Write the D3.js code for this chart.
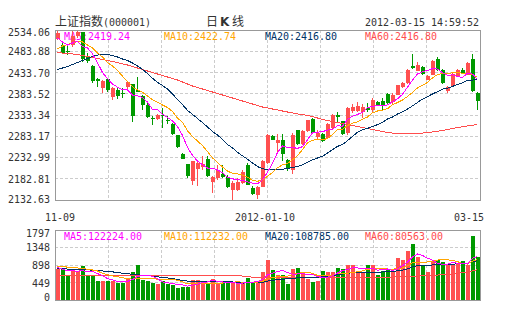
<!DOCTYPE html>
<html><head><meta charset="utf-8">
<script src="https://cdn.jsdelivr.net/npm/d3@7"></script>
<style>body{margin:0;background:#fff}svg{display:block}</style>
</head><body><svg id="c" width="505" height="330"></svg>
<script>
// ---------- DATA ----------
const dates = [
 "2011-11-09","2011-11-10","2011-11-11","2011-11-14","2011-11-15","2011-11-16","2011-11-17","2011-11-18","2011-11-21","2011-11-22",
 "2011-11-23","2011-11-24","2011-11-25","2011-11-28","2011-11-29","2011-11-30","2011-12-01","2011-12-02","2011-12-05","2011-12-06",
 "2011-12-07","2011-12-08","2011-12-09","2011-12-12","2011-12-13","2011-12-14","2011-12-15","2011-12-16","2011-12-19","2011-12-20",
 "2011-12-21","2011-12-22","2011-12-23","2011-12-26","2011-12-27","2011-12-28","2011-12-29","2011-12-30","2012-01-04","2012-01-05",
 "2012-01-06","2012-01-09","2012-01-10","2012-01-11","2012-01-12","2012-01-13","2012-01-16","2012-01-17","2012-01-18","2012-01-19",
 "2012-01-20","2012-01-30","2012-01-31","2012-02-01","2012-02-02","2012-02-03","2012-02-06","2012-02-07","2012-02-08","2012-02-09",
 "2012-02-10","2012-02-13","2012-02-14","2012-02-15","2012-02-16","2012-02-17","2012-02-20","2012-02-21","2012-02-22","2012-02-23",
 "2012-02-24","2012-02-27","2012-02-28","2012-02-29","2012-03-01","2012-03-02","2012-03-05","2012-03-06","2012-03-07","2012-03-08",
 "2012-03-09","2012-03-12","2012-03-13","2012-03-14","2012-03-15"];
const opens = [
 2513.5,2498.6,2484.5,2497.5,2519.9,2528.6,2472.7,2449.0,2417.2,2397.1,
 2418.4,2375.9,2392.4,2385.3,2398.3,2405.8,2391.2,2378.2,2356.9,2327.4,
 2324.6,2333.3,2321.5,2312.1,2285.4,2241.3,2217.6,2176.8,2205.8,2209.9,
 2229.4,2175.1,2184.6,2194.7,2186.2,2155.5,2155.5,2172.8,2215.3,2161.0,
 2145.1,2164.0,2220.0,2283.1,2267.2,2275.0,2227.8,2204.2,2297.9,2263.7,
 2294.9,2323.9,2281.4,2288.5,2279.0,2302.6,2332.2,2318.5,2290.8,2342.1,
 2343.5,2340.4,2349.9,2345.9,2364.1,2365.7,2383.6,2364.1,2381.3,2398.8,
 2408.9,2447.9,2438.0,2446.0,2416.7,2428.5,2465.6,2440.3,2389.3,2401.1,
 2424.7,2440.3,2428.5,2466.3,2385.3];
const highs = [
 2531.7,2503.4,2496.3,2531.7,2534.06,2529.3,2479.7,2451.4,2420.7,2416.0,
 2420.7,2399.5,2399.5,2397.1,2414.3,2406.5,2423.1,2380.6,2361.7,2331.0,
 2335.7,2349.9,2331.0,2314.5,2286.1,2243.6,2218.8,2225.9,2224.0,2237.2,
 2237.2,2188.6,2215.9,2215.9,2192.4,2176.8,2184.6,2203.5,2220.0,2165.7,
 2165.7,2227.1,2288.5,2286.1,2288.5,2288.5,2229.4,2290.8,2299.1,2297.9,
 2322.7,2325.1,2297.9,2290.8,2314.5,2335.7,2340.4,2319.2,2352.2,2359.3,
 2364.1,2359.3,2361.7,2373.5,2366.4,2373.5,2385.3,2385.3,2404.2,2411.3,
 2442.0,2477.4,2458.5,2449.0,2427.8,2463.2,2469.6,2442.0,2401.8,2432.5,
 2442.0,2444.3,2458.5,2477.4,2387.7];
const lows = [
 2510.4,2477.4,2475.0,2493.9,2515.2,2458.5,2456.9,2408.9,2399.5,2385.3,
 2388.8,2368.8,2371.1,2373.5,2392.4,2317.5,2387.7,2345.2,2326.3,2309.7,
 2322.2,2302.6,2312.1,2286.8,2255.4,2228.3,2184.6,2168.7,2165.0,2204.2,
 2186.9,2149.2,2180.6,2185.7,2162.1,2132.63,2153.2,2170.4,2168.0,2145.6,
 2135.0,2163.3,2217.6,2274.3,2241.3,2224.7,2201.1,2195.2,2262.5,2262.5,
 2293.2,2288.5,2276.7,2269.6,2276.7,2300.3,2316.8,2286.1,2286.1,2338.1,
 2340.4,2326.3,2340.4,2340.4,2354.6,2345.2,2359.3,2359.3,2380.6,2397.1,
 2406.5,2442.0,2437.2,2427.8,2416.0,2427.8,2436.5,2406.5,2385.3,2399.5,
 2423.1,2430.2,2427.8,2387.7,2345.9];
const closes = [
 2525.8,2479.7,2482.1,2519.9,2529.3,2464.9,2461.6,2413.6,2414.8,2413.6,
 2392.4,2397.1,2378.2,2382.9,2412.0,2331.7,2388.8,2357.7,2327.9,2325.1,
 2334.1,2331.0,2319.2,2288.5,2257.8,2229.4,2188.6,2225.4,2220.0,2217.6,
 2189.3,2186.9,2204.2,2186.9,2162.6,2172.8,2175.1,2198.8,2169.2,2146.8,
 2163.3,2225.4,2286.1,2275.0,2275.0,2241.3,2205.8,2286.8,2263.7,2295.6,
 2321.5,2290.8,2292.0,2271.2,2312.1,2333.3,2329.8,2288.5,2349.9,2351.5,
 2353.9,2352.2,2344.0,2369.5,2355.3,2355.3,2361.7,2381.3,2403.5,2408.9,
 2440.3,2445.5,2452.1,2430.2,2424.7,2461.6,2440.3,2408.9,2398.8,2430.9,
 2440.3,2432.5,2456.1,2390.7,2367.1];
const volumes = [
 796,804,608,753,744,864,650,650,479,479,
 479,488,436,436,548,710,907,522,479,436,
 402,488,402,385,317,342,342,522,522,496,
 445,548,402,428,436,436,436,436,556,436,
 471,719,1027,779,650,650,419,804,821,693,
 539,454,496,736,710,710,821,804,890,907,
 693,693,907,890,650,753,779,736,1078,1035,
 1249,1446,1095,881,710,993,1035,967,907,890,
 924,993,907,1652,1095];
const ma5Head  = [2515.2,2505.7,2498.6,2503.4];
const ma10Head = [2489.2,2496.3,2499.8,2503.4,2506.9,2505.7,2498.6,2491.6,2479.7];
const ma20Head = [2440.8,2444.3,2447.9,2452.6,2457.3,2462.0,2466.8,2471.5,2475.0,2476.2,
                  2476.2,2473.8,2470.3,2465.6,2462.0,2456.1,2449.1,2440.8,2431.3];
const ma60 = [
 2480.9,2479.7,2478.6,2477.4,2476.2,2473.8,2471.5,2469.1,2466.8,2464.4,
 2462.0,2459.7,2457.3,2453.8,2451.4,2447.9,2444.3,2440.8,2437.2,2433.7,
 2430.2,2426.6,2423.1,2419.5,2416.0,2411.3,2406.5,2401.8,2398.3,2394.7,
 2391.2,2387.7,2384.1,2380.6,2377.0,2373.5,2369.9,2366.4,2362.9,2359.3,
 2355.8,2352.2,2349.9,2347.5,2345.2,2342.8,2340.4,2338.1,2335.7,2334.5,
 2332.2,2329.8,2326.3,2322.7,2320.4,2318.0,2315.6,2313.3,2310.9,2308.5,
 2306.2,2303.8,2301.5,2299.1,2296.7,2294.4,2292.0,2290.8,2290.8,2290.8,
 2290.8,2290.8,2290.8,2290.8,2292.0,2293.2,2294.9,2296.7,2299.1,2301.5,
 2303.8,2305.7,2307.4,2309.3,2310.9];
const volMa5Head  = [837,790,755,748];
const volMa10Head = [862,855,845,835,822,808,790,770,745];
const volMa20Head = [805,800,795,790,785,780,775,765,755,745,735,722,705,690,675,660,648,636,625];
const volMa60 = [
 630,630,629,629,629,628,628,628,628,628,
 628,628,628,628,628,628,628,628,628,628,
 628,628,628,628,628,628,628,628,628,628,
 628,628,628,628,628,627,625,615,600,585,
 578,575,572,570,568,567,566,566,565,565,
 565,565,565,565,565,565,565,566,567,568,
 570,572,574,577,580,583,586,590,594,598,
 603,608,614,620,626,631,640,649,658,667,
 684,701,719,748,778];
const priceTicks = ["2534.06","2483.88","2433.70","2383.52","2333.34","2283.17","2232.99","2182.81","2132.63"];
const volTicks = ["1797","1348","898","449","0"];
const xLabelIdx = [0, 42, 84];
const xLabels = ["11-09","2012-01-10","03-15"];
const maNames = ["MA5","MA10","MA20","MA60"];
const priceLegend = ["2419.24","2422.74","2416.80","2416.80"];
const volLegend = ["122224.00","112232.00","108785.00","80563.00"];
const title = "上证指数", code = "(000001)", timeStamp = "2012-03-15 14:59:52";

// ---------- STYLE ----------
const maColors = ["#ff00ff","#ffa500","#003366","#ff4d4d"];
const UP = "#ff5050", DOWN = "#009900";
const MONO = "'DejaVu Sans Mono', monospace";
const CJK = "'Noto Sans CJK SC', sans-serif";

const N = dates.length;
const L=55, R=480, T=30, B=200, VT=230, VB=300;
const svg = d3.select("#c");

const x = d3.scaleBand().domain(d3.range(N)).range([L, R]);
const y = d3.scaleLinear().domain([+priceTicks[8], +priceTicks[0]]).range([B, T]);
const yv = d3.scaleLinear().domain([0, +volTicks[0]]).range([VB, VT]);
const gx = d3.scaleLinear().domain([0, 8]).range([L, R]);

function ma(arr, n, head){ return arr.map((v,i)=> i < n-1 ? head[i] : d3.mean(arr.slice(i-n+1, i+1))); }
const pMA = [ma(closes,5,ma5Head), ma(closes,10,ma10Head), ma(closes,20,ma20Head), ma60];
const vMA = [ma(volumes,5,volMa5Head), ma(volumes,10,volMa10Head), ma(volumes,20,volMa20Head), volMa60];

function mono(g, txt, px, py, anchor, color){
  return g.append("text").attr("x",px).attr("y",py).attr("text-anchor",anchor||"start")
    .attr("font-family",MONO).attr("font-size",11).attr("fill",color||"#333")
    .attr("textLength", txt.length*6).attr("lengthAdjust","spacingAndGlyphs").text(txt);
}

// ---------- GRID ----------
const grid = svg.append("g").attr("stroke","#cccccc").attr("stroke-dasharray","3,2").attr("shape-rendering","crispEdges");
priceTicks.slice(1,8).forEach(t=>{
  const yy = Math.floor(y(+t))+0.5;
  grid.append("line").attr("x1",L).attr("x2",R).attr("y1",yy).attr("y2",yy);
});
volTicks.slice(1,4).forEach(t=>{
  const yy = Math.floor(yv(+t))+0.5;
  grid.append("line").attr("x1",L).attr("x2",R).attr("y1",yy).attr("y2",yy);
});
d3.range(1,8).forEach(k=>{
  const xx = Math.floor(gx(k))+0.5;
  grid.append("line").attr("x1",xx).attr("x2",xx).attr("y1",T).attr("y2",B);
  grid.append("line").attr("x1",xx).attr("x2",xx).attr("y1",VT).attr("y2",VB);
});

// ---------- TEXT ----------
const tg = svg.append("g");
tg.append("text").attr("x",55).attr("y",26).attr("font-family",CJK).attr("font-size",12).attr("fill","#333").text(title);
mono(tg, code, 103, 26);
tg.append("text").attr("x",206).attr("y",26).attr("font-family",CJK).attr("font-size",12).attr("fill","#333").text("日");
tg.append("text").attr("x",220).attr("y",26).attr("font-family","'DejaVu Sans', sans-serif").attr("font-weight","bold").attr("font-size",12).attr("fill","#333").text("K");
tg.append("text").attr("x",232).attr("y",26).attr("font-family",CJK).attr("font-size",12).attr("fill","#333").text("线");
mono(tg, timeStamp, 479, 26, "end");

priceTicks.forEach(t=>{
  const c = Math.max(T+1.5, Math.min(B-1, y(+t)));
  mono(tg, t, 50, c+4, "end");
});
volTicks.forEach(t=>{
  const c = Math.max(VT+3, Math.min(VB-3.5, yv(+t)));
  mono(tg, t, 50, c+4, "end");
});
xLabelIdx.forEach((idx,k)=>{
  const w = xLabels[k].length*6;
  let cx = x(idx);
  cx = Math.max(45 + w/2, Math.min(484 - w/2, cx));
  mono(tg, xLabels[k], cx, 221, "middle");
});

const legX = [64,164,265,365];
maNames.forEach((m,k)=>{
  mono(tg, m+":"+priceLegend[k], legX[k], 40, "start", maColors[k]);
  mono(tg, m+":"+volLegend[k], legX[k], 240, "start", maColors[k]);
});

// ---------- CANDLES ----------
const cg = svg.append("g").attr("shape-rendering","crispEdges");
d3.range(N).forEach(i=>{
  const col = closes[i] >= opens[i] ? UP : DOWN;
  const x0 = Math.round(x(i));
  const yh = Math.round(y(highs[i])), yl = Math.round(y(lows[i]));
  cg.append("rect").attr("x",x0+2).attr("width",1).attr("y",yh).attr("height",Math.max(1,yl-yh)).attr("fill",col);
  const y1 = Math.round(y(Math.max(opens[i],closes[i]))), y2 = Math.round(y(Math.min(opens[i],closes[i])));
  cg.append("rect").attr("x",x0+1).attr("width",4).attr("y",y1).attr("height",Math.max(1,y2-y1)).attr("fill",col);
  const vy = Math.round(yv(volumes[i]));
  cg.append("rect").attr("x",x0+1).attr("width",4).attr("y",vy).attr("height",VB-vy).attr("fill",col);
});

// ---------- MA LINES ----------
const lg = svg.append("g").attr("fill","none").attr("stroke-width",1).attr("shape-rendering","crispEdges");
const cx = i => x(i) + x.bandwidth()/2;
[3,2,1,0].forEach(k=>{
  lg.append("path").attr("stroke",maColors[k])
    .attr("d", d3.line().x((d,i)=>cx(i)).y(d=>y(d))(pMA[k]));
  lg.append("path").attr("stroke",maColors[k])
    .attr("d", d3.line().x((d,i)=>cx(i)).y(d=>yv(d))(vMA[k]));
});

// ---------- FRAMES ----------
svg.append("rect").attr("x",L+0.5).attr("y",T+0.5).attr("width",R-L).attr("height",B-T)
  .attr("fill","none").attr("stroke","#999");
svg.append("rect").attr("x",L+0.5).attr("y",VT+0.5).attr("width",R-L).attr("height",VB-VT)
  .attr("fill","none").attr("stroke","#999");
</script></body></html>
